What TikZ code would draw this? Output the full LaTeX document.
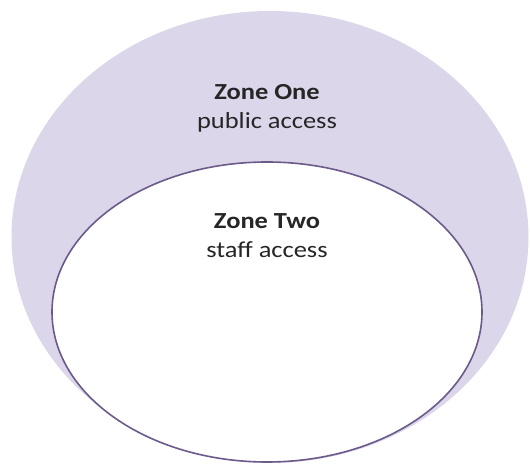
\documentclass[tikz,border=0pt]{standalone}
\usepackage{fontspec}
\setmainfont{Carlito}[FakeStretch=1.15]
\definecolor{zonefill}{RGB}{220,214,234}
\definecolor{zoneline}{RGB}{108,90,138}
\definecolor{zonetext}{RGB}{38,38,38}
\begin{document}
\begin{tikzpicture}[x=1pt,y=1pt,
  lbl/.style={align=center,text=zonetext,font=\fontsize{23}{29}\selectfont,inner sep=0pt}]
\useasboundingbox (0,0) rectangle (531,466);
\fill[zonefill] (270,229) ellipse [x radius=258.5, y radius=226];
\draw[zoneline,line width=1.6pt,fill=white] (267,154) ellipse [x radius=215, y radius=150];
\node[lbl] (zoneone) at (267,358) {\textbf{Zone One}\\public access};
\node[lbl] (zonetwo) at (267,230) {\textbf{Zone Two}\\staff access};
\end{tikzpicture}
\end{document}
